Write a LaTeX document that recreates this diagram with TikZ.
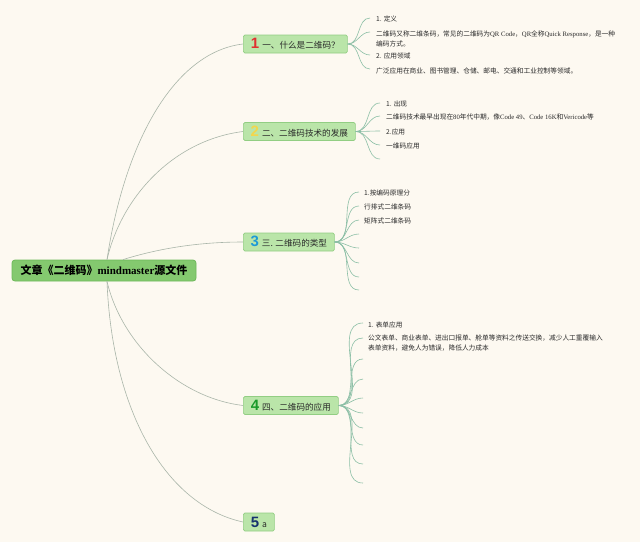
\documentclass[tikz,border=0pt]{standalone}
\usepackage{fontspec}
\setmainfont{Liberation Serif}
\newfontfamily\cjk{Noto Sans CJK SC}
\newfontfamily\lser{Liberation Serif}
\newfontfamily\numfont{Liberation Sans}
\definecolor{bgc}{HTML}{FDF9F1}
\definecolor{rootfill}{HTML}{84C96F}
\definecolor{rootdraw}{HTML}{6DB85A}
\definecolor{topfill}{HTML}{BAE5A9}
\definecolor{topdraw}{HTML}{92CE83}
\definecolor{mainline}{HTML}{A9B5A9}
\definecolor{subline}{HTML}{8CBFA6}
\definecolor{nA}{HTML}{E03030}
\definecolor{nB}{HTML}{F3D64C}
\definecolor{nC}{HTML}{1E9AD6}
\definecolor{nD}{HTML}{1A9A2A}
\definecolor{nE}{HTML}{16336E}
\definecolor{txt}{HTML}{2A2A2A}
\begin{document}
\begin{tikzpicture}[x=1pt,y=-1pt,
  rootbox/.style={draw=rootdraw, fill=rootfill, line width=0.8pt, rounded corners=3pt,
    minimum height=21pt, minimum width=184pt, inner sep=0pt, font=\fontsize{11}{13}\selectfont\bfseries},
  topicbox/.style={draw=topdraw, fill=topfill, line width=0.7pt, rounded corners=1.5pt,
    minimum height=18pt, inner sep=0pt, anchor=west, text=txt, font=\cjk\fontsize{8.6}{10}\selectfont},
  item/.style={anchor=west, inner sep=0pt, text=txt, align=left, font=\cjk\fontsize{6.7}{10}\selectfont},
  mline/.style={draw=mainline, line width=0.6pt},
  sline/.style={draw=subline, line width=0.6pt}
]
\useasboundingbox (0,0) rectangle (640,542);
\fill[bgc] (0,0) rectangle (640,542);

% root
\node[rootbox] (root) at (104,270.5) {{\cjk 文章《二维码》}{\lser mindmaster}{\cjk 源文件}};

% topics
\node[topicbox, minimum width=104pt] (t1) at (243,44)
  {\textcolor{nA}{\numfont\bfseries\fontsize{15}{15}\selectfont 1}\hspace{3pt}一、什么是二维码？};
\node[topicbox, minimum width=112pt] (t2) at (243,131.5)
  {\textcolor{nB}{\numfont\bfseries\fontsize{15}{15}\selectfont 2}\hspace{3pt}二、二维码技术的发展};
\node[topicbox, minimum width=91pt] (t3) at (243,242)
  {\textcolor{nC}{\numfont\bfseries\fontsize{15}{15}\selectfont 3}\hspace{3pt}三. 二维码的类型};
\node[topicbox, minimum width=95pt] (t4) at (243,405.5)
  {\textcolor{nD}{\numfont\bfseries\fontsize{15}{15}\selectfont 4}\hspace{3pt}四、二维码的应用};
\node[topicbox, minimum width=31pt] (t5) at (243,522)
  {\textcolor{nE}{\numfont\bfseries\fontsize{15}{15}\selectfont 5}\hspace{3pt}a};

% main connectors
\draw[mline] ([xshift=3pt]root.north) .. controls (125,140) and (175,52) .. (t1.west);
\draw[mline] ([xshift=3pt]root.north) .. controls (122,195) and (175,140) .. (t2.west);
\draw[mline] ([xshift=19pt]root.north) .. controls (160,248) and (200,242) .. (t3.west);
\draw[mline] ([xshift=3pt]root.south) .. controls (122,345) and (180,398) .. (t4.west);
\draw[mline] ([xshift=3pt]root.south) .. controls (112,410) and (165,505) .. (t5.west);

% topic 1 items
\node[item] (a1) at (376,19) {1. 定义};
\node[item] (a2) at (376,38.5) {二维码又称二维条码，常见的二维码为{\lser QR Code}，{\lser QR}全称{\lser Quick Response}，是一种\\编码方式。};
\node[item] (a3) at (376,56) {2. 应用领域};
\node[item] (a4) at (376,71) {广泛应用在商业、图书管理、仓储、邮电、交通和工业控制等领域。};
\coordinate (a1e) at (370,18);
\coordinate (a2e) at (370,32);
\coordinate (a3e) at (370,55);
\coordinate (a4e) at (370,69);
\foreach \e in {a1e,a2e,a3e,a4e}
  \draw[sline] (t1.east) to[out=0,in=180] (\e);

% topic 2 items
\node[item] (b1) at (386,104) {1. 出现};
\node[item] (b2) at (386,117) {二维码技术最早出现在{\lser 80}年代中期，像{\lser Code 49}、{\lser Code 16K}和{\lser Vericode}等};
\node[item] (b3) at (386,132) {2.应用};
\node[item] (b4) at (386,146) {一维码应用};
\coordinate (b1e) at (380,103);
\coordinate (b2e) at (380,116);
\coordinate (b3e) at (380,131);
\coordinate (b4e) at (380,145);
\coordinate (b5e) at (380,159);
\foreach \e in {b1e,b2e,b3e,b4e,b5e}
  \draw[sline] (t2.east) to[out=0,in=180] (\e);

% topic 3 items
\node[item] (c1) at (364,193) {1.按编码原理分};
\node[item] (c2) at (364,207) {行排式二维条码};
\node[item] (c3) at (364,221) {矩阵式二维条码};
\coordinate (c1e) at (359,192);
\coordinate (c2e) at (359,206);
\coordinate (c3e) at (359,220);
\coordinate (c4e) at (359,234);
\coordinate (c5e) at (359,248);
\coordinate (c6e) at (359,263);
\coordinate (c7e) at (359,277);
\coordinate (c8e) at (359,290);
\foreach \e in {c1e,c2e,c3e,c4e,c5e,c6e,c7e,c8e}
  \draw[sline] (t3.east) to[out=0,in=180] (\e);

% topic 4 items
\node[item] (d1) at (368,325) {1. 表单应用};
\node[item] (d2) at (368,343) {公文表单、商业表单、进出口报单、舱单等资料之传送交换，减少人工重覆输入\\表单资料，避免人为错误，降低人力成本};
\coordinate (d1e) at (363,323);
\coordinate (d2e) at (363,338);
\coordinate (d3e) at (363,359);
\coordinate (d4e) at (363,379);
\coordinate (d5e) at (363,398);
\coordinate (d6e) at (363,413);
\coordinate (d7e) at (363,428);
\coordinate (d8e) at (363,445);
\coordinate (d9e) at (363,464);
\coordinate (d10e) at (363,483);
\foreach \e in {d1e,d2e,d3e,d4e,d5e,d6e,d7e,d8e,d9e,d10e}
  \draw[sline] (t4.east) to[out=0,in=180] (\e);
\end{tikzpicture}
\end{document}
